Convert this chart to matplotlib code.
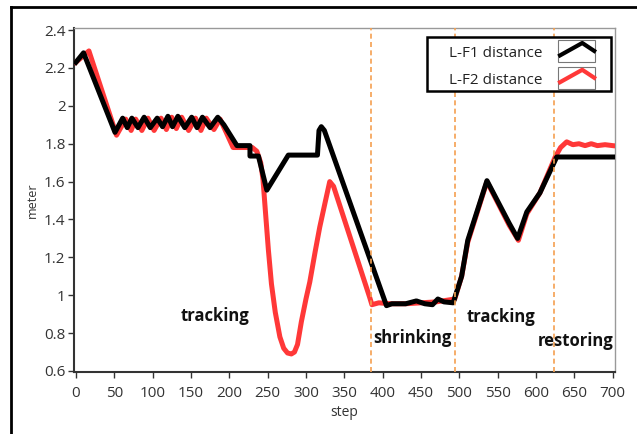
import matplotlib
matplotlib.use("Agg")
import matplotlib.pyplot as plt
from matplotlib.patches import Rectangle
from matplotlib.lines import Line2D

plt.rcParams['font.family'] = ['Open Sans', 'DejaVu Sans']

# L-F1 distance (step, meter)
f1_step = [0, 10, 51, 61, 67, 73, 81, 89, 97, 106, 113, 120, 126, 133, 142,
           151, 158, 165, 175, 185, 193, 210, 227, 227, 238, 249, 277, 315,
           317, 320, 324, 405, 412, 430, 444, 455, 465, 472, 480, 492, 503,
           511, 536, 565, 576, 588, 605, 627, 700]
f1_dist = [2.23, 2.28, 1.86, 1.935, 1.885, 1.935, 1.885, 1.94, 1.885, 1.935,
           1.89, 1.945, 1.89, 1.945, 1.885, 1.94, 1.885, 1.94, 1.885, 1.94,
           1.90, 1.79, 1.79, 1.735, 1.735, 1.555, 1.74, 1.74, 1.87, 1.89,
           1.87, 0.945, 0.955, 0.955, 0.97, 0.955, 0.95, 0.98, 0.965, 0.96,
           1.10, 1.29, 1.605, 1.38, 1.30, 1.44, 1.54, 1.73, 1.73]

# L-F2 distance (step, meter)
f2_step = [0, 17, 53, 65, 72, 78, 86, 94, 102, 111, 118, 125, 131, 138, 147,
           156, 163, 170, 180, 188, 196, 205, 230, 236, 241, 244, 247, 251,
           255, 260, 266, 271, 276, 281, 285, 289, 294, 300, 305, 312, 318,
           325, 331, 336, 383, 386, 395, 410, 430, 450, 470, 494, 503, 511,
           536, 565, 577, 588, 605, 625, 632, 640, 648, 656, 664, 672, 680,
           690, 700]
f2_dist = [2.23, 2.29, 1.845, 1.93, 1.87, 1.93, 1.87, 1.935, 1.87, 1.935,
           1.875, 1.94, 1.88, 1.94, 1.87, 1.935, 1.87, 1.935, 1.875, 1.93,
           1.86, 1.78, 1.78, 1.76, 1.70, 1.61, 1.45, 1.24, 1.06, 0.91, 0.78,
           0.72, 0.695, 0.69, 0.70, 0.74, 0.86, 0.98, 1.07, 1.23, 1.36, 1.49,
           1.60, 1.575, 0.99, 0.95, 0.96, 0.955, 0.955, 0.96, 0.965, 0.98,
           1.10, 1.28, 1.60, 1.37, 1.29, 1.43, 1.54, 1.73, 1.78, 1.81, 1.795,
           1.80, 1.79, 1.80, 1.79, 1.795, 1.79]

phase_bounds = [385, 494, 623]
phase_names = ['tracking', 'shrinking', 'tracking', 'restoring']
phase_pos = [(181, 0.89), (439, 0.775), (554, 0.885), (652, 0.76)]

xticks = list(range(0, 701, 50))
yticks = [0.6, 0.8, 1.0, 1.2, 1.4, 1.6, 1.8, 2.0, 2.2, 2.4]
ytick_labels = ['0.6', '0.8', '1', '1.2', '1.4', '1.6', '1.8', '2', '2.2', '2.4']

red = '#ff3838'
fig = plt.figure(figsize=(6.37, 4.34), dpi=100)
ax = fig.add_axes([0.116, 0.143, 0.849, 0.792])

ax.plot(f2_step, f2_dist, color=red, lw=3.6, solid_joinstyle='round', zorder=3)
ax.plot(f1_step, f1_dist, color='black', lw=3.6, solid_joinstyle='round', zorder=4)

for b in phase_bounds:
    ax.axvline(b, color='#f5a050', lw=1.2, ls=(0, (3, 2)), zorder=5)

for name, (x, y) in zip(phase_names, phase_pos):
    ax.text(x, y, name, ha='center', va='center', fontsize=12,
            fontweight='bold', color='#111111', zorder=6)

ax.set_xlim(-2.6, 702.6)
ax.set_ylim(0.595, 2.41)
ax.set_xticks(xticks)
ax.set_yticks(yticks)
ax.set_yticklabels(ytick_labels)
ax.tick_params(colors='#333333', labelsize=11, length=4, width=1)
ax.tick_params(axis='x', pad=6)
ax.tick_params(axis='y', pad=2)
ax.set_xlabel('step', fontsize=10, color='#333333', labelpad=3)
ax.set_ylabel('meter', fontsize=9, color='#333333', labelpad=4)
for s in ['left', 'bottom']:
    ax.spines[s].set_color('#333333')
    ax.spines[s].set_linewidth(1.5)
for s in ['top', 'right']:
    ax.spines[s].set_color('#999999')
    ax.spines[s].set_linewidth(1.0)

# legend box drawn by hand, samples on the right
tr = ax.transAxes
ax.add_patch(Rectangle((0.652, 0.817), 0.342, 0.157, transform=tr,
                       fill=True, facecolor='white', edgecolor='black',
                       lw=1.8, zorder=7))
for label, col, yc, yb in [('L-F1 distance', 'black', 0.927, 0.901),
                           ('L-F2 distance', red, 0.849, 0.823)]:
    ax.text(0.867, yc, label, transform=tr, ha='right', va='center',
            fontsize=11, color='#222222', zorder=8)
    ax.add_patch(Rectangle((0.895, yb), 0.068, 0.064, transform=tr,
                           fill=False, edgecolor='#777777', lw=0.8, zorder=8))
    ax.add_line(Line2D([0.899, 0.94, 0.962],
                       [yb + 0.02, yb + 0.056, yb + 0.033], transform=tr,
                       color=col, lw=3, zorder=9))

# outer frame lines
fig.add_artist(Line2D([11 / 637, 1.0], [1 - 7 / 434, 1 - 7 / 434],
                      color='black', lw=2))
fig.add_artist(Line2D([11 / 637, 11 / 637], [0.0, 1 - 7 / 434],
                      color='black', lw=2))

fig.savefig('out.png', dpi=100)
